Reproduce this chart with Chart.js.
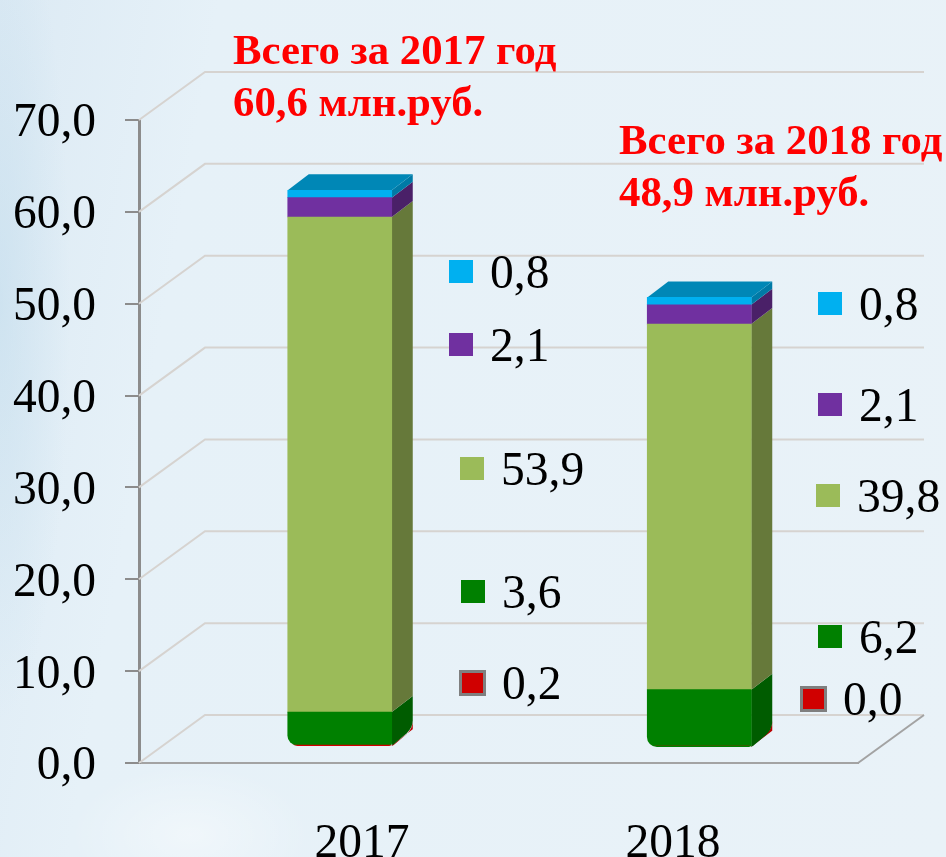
<!DOCTYPE html>
<html lang="ru">
<head>
<meta charset="utf-8">
<title>Всего за 2017 и 2018 год</title>
<script src="https://cdn.jsdelivr.net/npm/chart.js@4/dist/chart.umd.min.js"></script>
<style>
  html, body { margin: 0; padding: 0; }
  body {
    width: 946px; height: 857px; overflow: hidden;
    background:
      radial-gradient(ellipse 120px 70px at 190px 835px, rgba(255,255,255,.4), rgba(255,255,255,0)),
      radial-gradient(ellipse 70px 420px at 0px 300px, rgba(190,218,235,.5), rgba(190,218,235,0)),
      linear-gradient(100deg, #dceaf4 0%, #e6f1f8 20%, #e9f2f8 100%);
  }
  canvas { display: block; }
</style>
</head>
<body>
<canvas id="costChart" width="946" height="857"></canvas>
<script>
const categories = ['2017', '2018'];
const redValues = [0.2, 0.04];
const darkGreenValues = [3.6, 6.2];
const lightGreenValues = [53.9, 39.8];
const purpleValues = [2.1, 2.1];
const blueValues = [0.8, 0.8];
const totals = ['60,6', '48,9'];
const yTicks = [0, 10, 20, 30, 40, 50, 60, 70];

// look of the fake 3D
const wallDepth = { x: 66, y: -48 };
const barShift = { x: 21, y: -16 };
const barDepth = { x: 21, y: -16 };
const topColor = '#0087b6';
const sideColors = ['#b80000', '#005c00', '#66793a', '#4a2068', '#007aa6'];
const footCorners = [0, 0, 3, 10];

// hand placed keys, one row per year, same order as the datasets
const keySpots = [
  [{ x: 459, y: 670, b: true }, { x: 461, y: 580 }, { x: 460, y: 457 }, { x: 449, y: 333 }, { x: 449, y: 260 }],
  [{ x: 800, y: 686, b: true }, { x: 818, y: 625 }, { x: 816, y: 484 }, { x: 818, y: 393 }, { x: 818, y: 292 }]
];
const xLabelCenters = [362, 673];
const titleSpots = [{ x: 233, y: 53 }, { x: 619, y: 143 }];

const serif = '"Liberation Serif", "Times New Roman", serif';

function fmt(v) {
  return v.toFixed(1).replace('.', ',');
}

function drawSide(ctx, bar, dsIndex) {
  const r = bar.x + bar.width / 2;
  const rounded = dsIndex < 2;
  ctx.fillStyle = sideColors[dsIndex];
  ctx.beginPath();
  ctx.moveTo(r, bar.y);
  ctx.lineTo(r + barDepth.x, bar.y + barDepth.y);
  if (rounded) {
    const by = bar.base + barDepth.y;
    ctx.lineTo(r + barDepth.x, by - 9);
    ctx.quadraticCurveTo(r + barDepth.x, by - 2, r + barDepth.x - 6, by + 4);
    ctx.lineTo(r + 2, bar.base - 1);
    ctx.lineTo(r, bar.base);
  } else {
    ctx.lineTo(r + barDepth.x, bar.base + barDepth.y);
    ctx.lineTo(r, bar.base);
  }
  ctx.closePath();
  ctx.fill();
}

const box3d = {
  id: 'box3d',
  // back walls and floor
  beforeDatasetsDraw(chart) {
    const { ctx, chartArea: a, scales: { y } } = chart;
    ctx.save();
    ctx.strokeStyle = '#d6d3d0';
    ctx.lineWidth = 2;
    y.ticks.forEach((t) => {
      const py = y.getPixelForValue(t.value);
      ctx.beginPath();
      ctx.moveTo(a.left, py);
      ctx.lineTo(a.left + wallDepth.x, py + wallDepth.y);
      ctx.lineTo(a.right + wallDepth.x, py + wallDepth.y);
      ctx.stroke();
    });
    ctx.strokeStyle = '#a3a3a3';
    ctx.lineWidth = 2;
    ctx.beginPath();
    ctx.moveTo(a.right, a.bottom);
    ctx.lineTo(a.right + wallDepth.x, a.bottom + wallDepth.y);
    ctx.stroke();
    ctx.restore();

    ctx.save();
    ctx.translate(barShift.x, barShift.y);
    // side faces bottom up, then the lid of the top segment
    chart.data.datasets.forEach((ds, i) => {
      chart.getDatasetMeta(i).data.forEach((bar) => drawSide(ctx, bar, i));
    });
    chart.getDatasetMeta(chart.data.datasets.length - 1).data.forEach((bar) => {
      const l = bar.x - bar.width / 2;
      ctx.fillStyle = topColor;
      ctx.beginPath();
      ctx.moveTo(l, bar.y);
      ctx.lineTo(l + barDepth.x, bar.y + barDepth.y);
      ctx.lineTo(l + bar.width + barDepth.x, bar.y + barDepth.y);
      ctx.lineTo(l + bar.width, bar.y);
      ctx.closePath();
      ctx.fill();
    });
  },
  beforeDatasetDraw(chart, args) {
    // the red sliver follows the rounded foot of the green block
    if (args.index === 0) {
      const { ctx } = chart;
      ctx.save();
      ctx.beginPath();
      args.meta.data.forEach((bar) => {
        ctx.roundRect(bar.x - bar.width / 2, 0, bar.width, bar.base, footCorners);
      });
      ctx.clip();
    }
  },
  afterDatasetDraw(chart, args) {
    if (args.index === 0) chart.ctx.restore();
  },
  afterDatasetsDraw(chart) {
    const { ctx, scales: { y } } = chart;
    ctx.restore();
    ctx.save();

    ctx.fillStyle = '#000';
    ctx.font = '47.5px ' + serif;

    // y labels hang a little under their ticks
    ctx.textAlign = 'right';
    ctx.textBaseline = 'middle';
    yTicks.forEach((v) => ctx.fillText(fmt(v), 96, y.getPixelForValue(v) + 4));

    // x labels sit off centre in the original
    ctx.textAlign = 'center';
    ctx.textBaseline = 'alphabetic';
    categories.forEach((c, i) => ctx.fillText(c, xLabelCenters[i], 857));

    // keys with values
    ctx.textAlign = 'left';
    ctx.textBaseline = 'middle';
    chart.data.datasets.forEach((ds, i) => {
      ds.data.forEach((v, c) => {
        const s = keySpots[c][i];
        if (s.b) {
          ctx.fillStyle = '#7f7f7f';
          ctx.fillRect(s.x, s.y, 27, 26);
          ctx.fillStyle = ds.backgroundColor;
          ctx.fillRect(s.x + 3, s.y + 3, 21, 20);
        } else {
          ctx.fillStyle = ds.backgroundColor;
          ctx.fillRect(s.x, s.y, 24, 23);
        }
        ctx.fillStyle = '#000';
        ctx.fillText(fmt(v), s.x + (s.b ? 43 : 41), s.y + (s.b ? 17 : 16));
      });
    });

    // totals
    ctx.fillStyle = '#ff0000';
    ctx.font = 'bold 42.8px ' + serif;
    categories.forEach((c, i) => {
      const s = titleSpots[i];
      ctx.fillText('Всего за ' + c + ' год', s.x, s.y);
      ctx.fillText(totals[i] + ' млн.руб.', s.x, s.y + 52);
    });
    ctx.restore();
  }
};

new Chart(document.getElementById('costChart'), {
  type: 'bar',
  plugins: [box3d],
  data: {
    labels: categories,
    datasets: [
      { label: 'red', data: redValues, backgroundColor: '#d00000' },
      {
        label: 'dark green',
        data: darkGreenValues,
        backgroundColor: '#008000',
        borderSkipped: false,
        borderRadius: { topLeft: 0, topRight: 0, bottomLeft: 10, bottomRight: 3 }
      },
      { label: 'light green', data: lightGreenValues, backgroundColor: '#9bbb59' },
      { label: 'purple', data: purpleValues, backgroundColor: '#7030a0' },
      { label: 'blue', data: blueValues, backgroundColor: '#00b0f0' }
    ]
  },
  options: {
    responsive: false,
    animation: false,
    barThickness: 104,
    layout: { padding: { top: 120, right: 88, bottom: 0, left: 0 } },
    plugins: { legend: { display: false }, tooltip: { enabled: false } },
    scales: {
      x: {
        stacked: true,
        afterFit(s) { s.height = 94; },
        grid: { display: false },
        border: { color: '#a3a3a3', width: 2 },
        ticks: { display: false }
      },
      y: {
        stacked: true,
        min: 0,
        max: 70,
        afterFit(s) { s.width = 139; },
        afterBuildTicks(s) { s.ticks = yTicks.map((value) => ({ value })); },
        grid: { drawOnChartArea: false, color: '#8c8c8c', lineWidth: 2, tickLength: 14 },
        border: { color: '#8c8c8c', width: 3 },
        ticks: { display: false }
      }
    }
  }
});
</script>
</body>
</html>
